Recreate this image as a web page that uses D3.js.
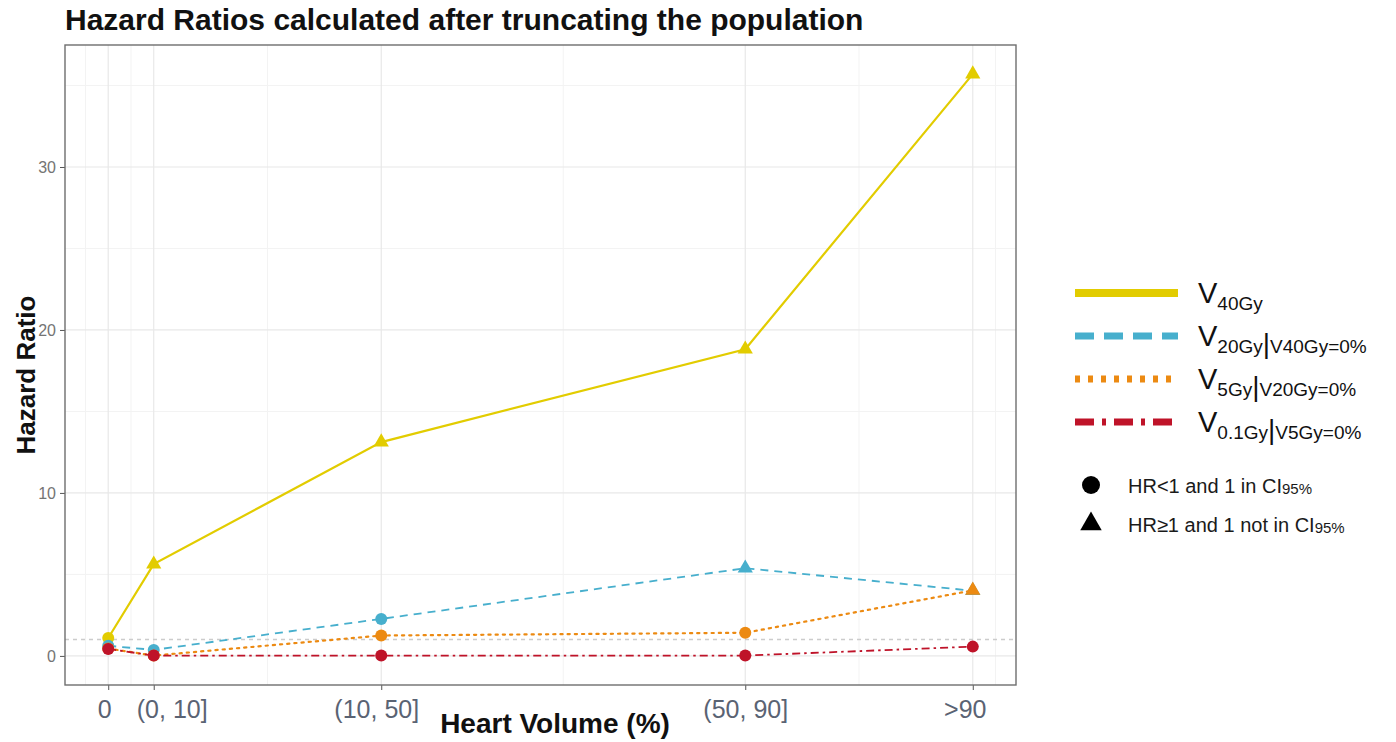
<!DOCTYPE html>
<html>
<head>
<meta charset="utf-8">
<script src="https://cdn.jsdelivr.net/npm/d3@7"></script>
<style>
  html, body { margin: 0; padding: 0; background: #fff; }
  svg { display: block; font-family: "Liberation Sans", Arial, sans-serif; }
</style>
</head>
<body>
<svg id="chart" width="1396" height="742"></svg>
<script>
// Heart volume bands and where each sits on the x axis
const categories = ["0", "(0, 10]", "(10, 50]", "(50, 90]", ">90"];
const bandPositions = [0, 5, 30, 70, 95];

// Hazard ratios per dose metric
const hrV40 = [1.1, 5.63, 13.12, 18.82, 35.7];
const hrV20 = [0.62, 0.37, 2.27, 5.38, 4.0];
const hrV5  = [0.45, 0.02, 1.25, 1.42, 4.02];
const hrV01 = [0.43, 0.02, 0.02, 0.02, 0.57];

// Significance class per point: "lt" = HR<1 and 1 in CI, "ge" = HR>=1 and 1 not in CI
const sigV40 = ["lt", "ge", "ge", "ge", "ge"];
const sigV20 = ["lt", "lt", "lt", "ge", "ge"];
const sigV5  = ["lt", "lt", "lt", "lt", "ge"];
const sigV01 = ["lt", "lt", "lt", "lt", "lt"];

const yTicks = [0, 10, 20, 30];
const yMinor = [5, 15, 25, 35];
const referenceHR = 1;

const series = [
  { id: "v40", main: "40Gy", cond: null,       values: hrV40, sig: sigV40, color: "#e2cc00", dash: null,      width: 2.2 },
  { id: "v20", main: "20Gy", cond: "V40Gy=0%", values: hrV20, sig: sigV20, color: "#47afcd", dash: "8,6",    width: 1.8 },
  { id: "v5",  main: "5Gy",  cond: "V20Gy=0%", values: hrV5,  sig: sigV5,  color: "#ec8a12", dash: "2.2,5",  width: 2.2 },
  { id: "v01", main: "0.1Gy",cond: "V5Gy=0%",  values: hrV01, sig: sigV01, color: "#bf1329", dash: "8,4,2.5,4", width: 1.8 }
];

const svg = d3.select("#chart");
const panel = { left: 65, right: 1016, top: 45, bottom: 685 };

// ggplot-style 5% expansion on both axes
const xExt = d3.extent(bandPositions);
const xPad = (xExt[1] - xExt[0]) * 0.05;
const x = d3.scaleLinear().domain([xExt[0] - xPad, xExt[1] + xPad]).range([panel.left, panel.right]);

const allY = [].concat(hrV40, hrV20, hrV5, hrV01);
const yLo = Math.min(0, d3.min(allY)), yHi = d3.max(allY);
const yPad = (yHi - yLo) * 0.05;
const y = d3.scaleLinear().domain([yLo - yPad, yHi + yPad]).range([panel.bottom, panel.top]);

// Title
svg.append("text").attr("x", 65).attr("y", 30)
  .attr("font-size", 30).attr("font-weight", "bold").attr("fill", "#111")
  .text("Hazard Ratios calculated after truncating the population");

// Grid
const grid = svg.append("g");
const xMinor = [];
for (let i = 0; i < bandPositions.length - 1; i++) xMinor.push((bandPositions[i] + bandPositions[i + 1]) / 2);
xMinor.push(bandPositions[0] - 2.5, bandPositions[bandPositions.length - 1] + 2.5);

grid.selectAll(".yminor").data(yMinor).join("line")
  .attr("x1", panel.left).attr("x2", panel.right)
  .attr("y1", d => y(d)).attr("y2", d => y(d))
  .attr("stroke", "#f3f3f3").attr("stroke-width", 1);
grid.selectAll(".xminor").data(xMinor).join("line")
  .attr("y1", panel.top).attr("y2", panel.bottom)
  .attr("x1", d => x(d)).attr("x2", d => x(d))
  .attr("stroke", "#f3f3f3").attr("stroke-width", 1);
grid.selectAll(".ymajor").data(yTicks).join("line")
  .attr("x1", panel.left).attr("x2", panel.right)
  .attr("y1", d => y(d)).attr("y2", d => y(d))
  .attr("stroke", "#e8e8e8").attr("stroke-width", 1.2);
grid.selectAll(".xmajor").data(bandPositions).join("line")
  .attr("y1", panel.top).attr("y2", panel.bottom)
  .attr("x1", d => x(d)).attr("x2", d => x(d))
  .attr("stroke", "#e8e8e8").attr("stroke-width", 1.2);

// Reference line at HR = 1
svg.append("line")
  .attr("x1", panel.left).attr("x2", panel.right)
  .attr("y1", y(referenceHR)).attr("y2", y(referenceHR))
  .attr("stroke", "#cccccc").attr("stroke-width", 1.5).attr("stroke-dasharray", "4,4");

// Axes
const labelNudge = [-4, 18, -5, 0, -8]; // keeps the two left-most labels apart
const xAxis = d3.axisBottom(x).tickValues(bandPositions)
  .tickFormat((d, i) => categories[i]).tickSize(5).tickPadding(10);
const gx = svg.append("g").attr("transform", `translate(0,${panel.bottom})`).call(xAxis);
gx.select(".domain").remove();
gx.selectAll(".tick line").attr("stroke", "#555");
gx.selectAll(".tick text").attr("font-size", 25).attr("fill", "#5a6373")
  .attr("font-family", "Liberation Sans, Arial, sans-serif")
  .attr("dx", (d, i) => labelNudge[i]);

const yAxis = d3.axisLeft(y).tickValues(yTicks).tickSize(5).tickPadding(4);
const gy = svg.append("g").attr("transform", `translate(${panel.left},0)`).call(yAxis);
gy.select(".domain").remove();
gy.selectAll(".tick line").attr("stroke", "#555");
gy.selectAll(".tick text").attr("font-size", 16).attr("fill", "#747474")
  .attr("font-family", "Liberation Sans, Arial, sans-serif");

// Panel border
svg.append("rect")
  .attr("x", panel.left).attr("y", panel.top)
  .attr("width", panel.right - panel.left).attr("height", panel.bottom - panel.top)
  .attr("fill", "none").attr("stroke", "#6e6e6e").attr("stroke-width", 1.4);

// Axis titles
svg.append("text").attr("x", 555).attr("y", 733).attr("text-anchor", "middle")
  .attr("font-size", 28).attr("font-weight", "bold").attr("fill", "#111")
  .text("Heart Volume (%)");
svg.append("text").attr("transform", "translate(35,375) rotate(-90)").attr("text-anchor", "middle")
  .attr("font-size", 26).attr("font-weight", "bold").attr("fill", "#111")
  .text("Hazard Ratio");

// Lines
const line = d3.line().x((d, i) => x(bandPositions[i])).y(d => y(d));
const marks = svg.append("g");
series.forEach(s => {
  marks.append("path").datum(s.values)
    .attr("d", line).attr("fill", "none")
    .attr("stroke", s.color).attr("stroke-width", s.width)
    .attr("stroke-dasharray", s.dash)
    .attr("stroke-linecap", s.id === "v5" ? "round" : "butt");
});

// Points
const triangle = d3.symbol().type(d3.symbolTriangle).size(100);
series.forEach(s => {
  s.values.forEach((v, i) => {
    const cx = x(bandPositions[i]), cy = y(v);
    if (s.sig[i] === "ge") {
      marks.append("path").attr("d", triangle())
        .attr("transform", `translate(${cx},${cy})`).attr("fill", s.color);
    } else {
      marks.append("circle").attr("cx", cx).attr("cy", cy).attr("r", 6).attr("fill", s.color);
    }
  });
});

// Legend: line types
const leg = svg.append("g");
const legRows = [293, 336, 379, 422];
const keyDash = { v40: null, v20: "19,10", v5: "5,8", v01: "19,8,4,8" };
series.forEach((s, i) => {
  const ly = legRows[i];
  leg.append("line").attr("x1", 1075).attr("x2", 1178).attr("y1", ly).attr("y2", ly)
    .attr("stroke", s.color).attr("stroke-width", s.id === "v40" ? 8 : 7)
    .attr("stroke-dasharray", keyDash[s.id]).attr("stroke-linecap", "butt");
  const t = leg.append("text").attr("x", 1198).attr("y", ly + 10).attr("fill", "#111");
  t.append("tspan").attr("font-size", 29).text("V");
  t.append("tspan").attr("font-size", 19).attr("dy", 7).text(s.main);
  if (s.cond) {
    t.append("tspan").attr("font-size", 28).text("|");
    t.append("tspan").attr("font-size", 19).text(s.cond);
  }
});

// Legend: point shapes
const shapeRows = [
  { y: 485, kind: "lt", label: "HR<1 and 1 in CI" },
  { y: 524, kind: "ge", label: "HR\u22651 and 1 not in CI" }
];
shapeRows.forEach(r => {
  if (r.kind === "lt") {
    leg.append("circle").attr("cx", 1091).attr("cy", r.y).attr("r", 9).attr("fill", "#000");
  } else {
    leg.append("path").attr("d", d3.symbol().type(d3.symbolTriangle).size(200)())
      .attr("transform", `translate(1091,${r.y})`).attr("fill", "#000");
  }
  const t = leg.append("text").attr("x", 1128).attr("y", r.y + 8).attr("fill", "#1a1a1a");
  t.append("tspan").attr("font-size", 20).text(r.label);
  t.append("tspan").attr("font-size", 15).attr("dy", 1).text("95%");
});
</script>
</body>
</html>
